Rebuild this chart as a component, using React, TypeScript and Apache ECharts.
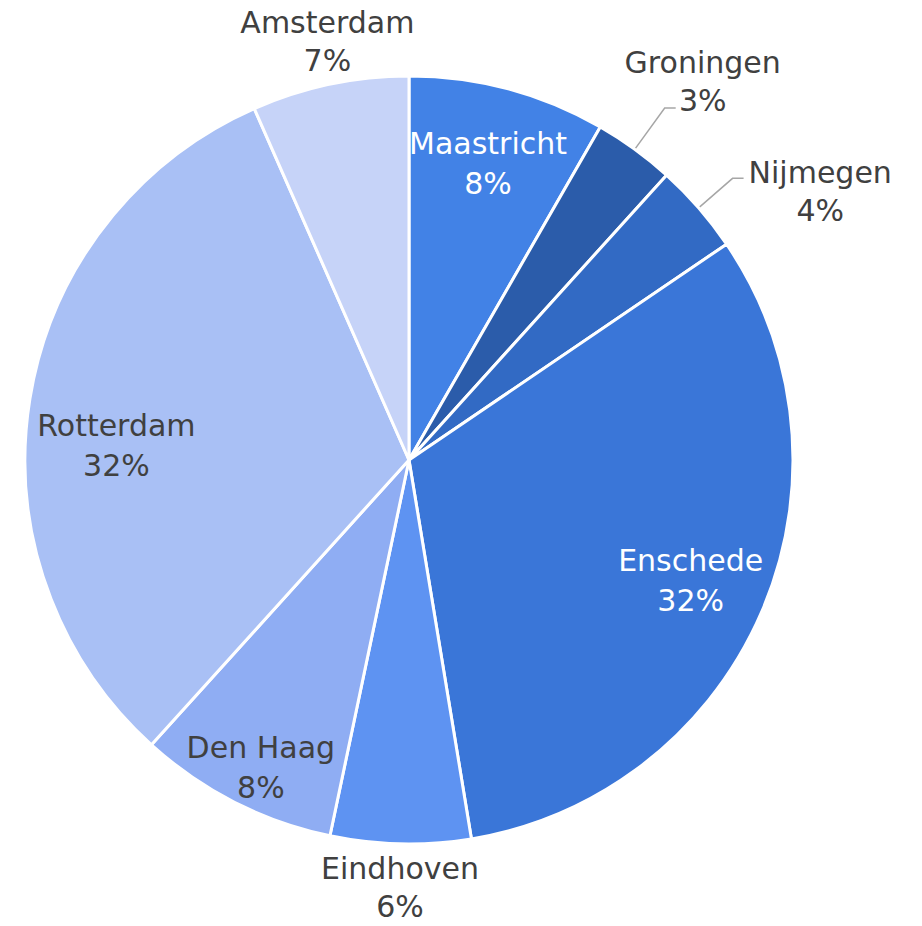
import React, { useEffect, useRef } from 'react';
import * as echarts from 'echarts';

const cities = ['Maastricht', 'Groningen', 'Nijmegen', 'Enschede', 'Eindhoven', 'Den Haag', 'Rotterdam', 'Amsterdam'];
const shares = [8.3, 3.4, 3.8, 31.9, 5.9, 8.4, 31.7, 6.6];
const colors = ['#4282E6', '#2B5CAA', '#326AC4', '#3A76D8', '#5E93F2', '#8FADF3', '#A9C0F5', '#C6D3F8'];
const insideLabels = ['Maastricht', 'Enschede', 'Rotterdam', 'Den Haag'];
const lightText = ['Maastricht', 'Enschede'];

export default function App() {
  const ref = useRef<HTMLDivElement>(null);
  useEffect(() => {
    const chart = echarts.init(ref.current!, null, { renderer: 'svg' });
    const total = shares.reduce((a, b) => a + b, 0);
    const pctText = (v: number) => Math.round((v / total) * 100) + '%';
    const FONT = 'DejaVu Sans';
    const dark = '#404040';
    const outerCfg: Record<string, any> = {
      Groningen: { line: true, length: 51, length2: 11, width: 44, padding: [0, 0, 54, 0] },
      Nijmegen: { line: true, length: 45, length2: 11, padding: [26, 0, 0, 0] },
      Amsterdam: { line: false, length: 44, length2: 0, width: 1, padding: 0 },
      Eindhoven: { line: false, length: 48, length2: 0, width: 1, padding: 0 },
    };
    const outerShift: Record<string, number[]> = { Amsterdam: [12, 0], Eindhoven: [6, -4] };
    const innerShift: Record<string, number[]> = { Rotterdam: [10, 34], 'Den Haag': [-9, 34] };
    const richStyle = { fontFamily: FONT, fontSize: 30, lineHeight: 38, color: dark, align: 'center' };
    const mainData = cities.map((c, i) => {
      const cfg = outerCfg[c];
      return {
        name: c,
        value: shares[i],
        itemStyle: { color: colors[i] },
        label: cfg
          ? {
              show: true,
              position: 'outside',
              width: cfg.width,
              overflow: 'none',
              padding: cfg.padding,
              formatter: `{t|${c}}\n{t|${pctText(shares[i])}}`,
              rich: { t: richStyle },
            }
          : { show: false },
        labelLine: cfg
          ? { show: cfg.line, length: cfg.length, length2: cfg.length2, lineStyle: { color: '#A6A6A6', width: 1.5 } }
          : { show: false },
      };
    });
    const innerData = cities.map((c, i) => ({
      name: c,
      value: shares[i],
      label: insideLabels.includes(c)
        ? { show: true, color: lightText.includes(c) ? '#ffffff' : dark }
        : { show: false },
    }));
    chart.setOption({
      animation: false,
      backgroundColor: '#ffffff',
      series: [
        {
          type: 'pie',
          center: [409, 460],
          radius: 384,
          startAngle: 90,
          clockwise: true,
          avoidLabelOverlap: false,
          silent: true,
          emphasis: { disabled: true },
          itemStyle: { borderColor: '#ffffff', borderWidth: 3 },
          data: mainData,
          labelLayout: (p: any) => {
            const s = outerShift[cities[p.dataIndex]];
            return s ? { dx: s[0], dy: s[1] } : {};
          },
        },
        {
          type: 'pie',
          center: [409, 460],
          radius: [223, 384],
          startAngle: 90,
          clockwise: true,
          avoidLabelOverlap: false,
          silent: true,
          emphasis: { disabled: true },
          itemStyle: { color: 'transparent', borderWidth: 0 },
          label: {
            position: 'inside',
            fontFamily: FONT,
            fontSize: 30,
            lineHeight: 40,
            formatter: (p: any) => `${p.name}\n${pctText(p.value)}`,
          },
          labelLine: { show: false },
          data: innerData,
          labelLayout: (p: any) => {
            const s = innerShift[cities[p.dataIndex]];
            return s ? { dx: s[0], dy: s[1] } : {};
          },
        },
      ],
    });
    return () => chart.dispose();
  }, []);
  return <div ref={ref} style={{ position: 'fixed', left: 0, top: 0, width: 922, height: 926 }} />;
}
